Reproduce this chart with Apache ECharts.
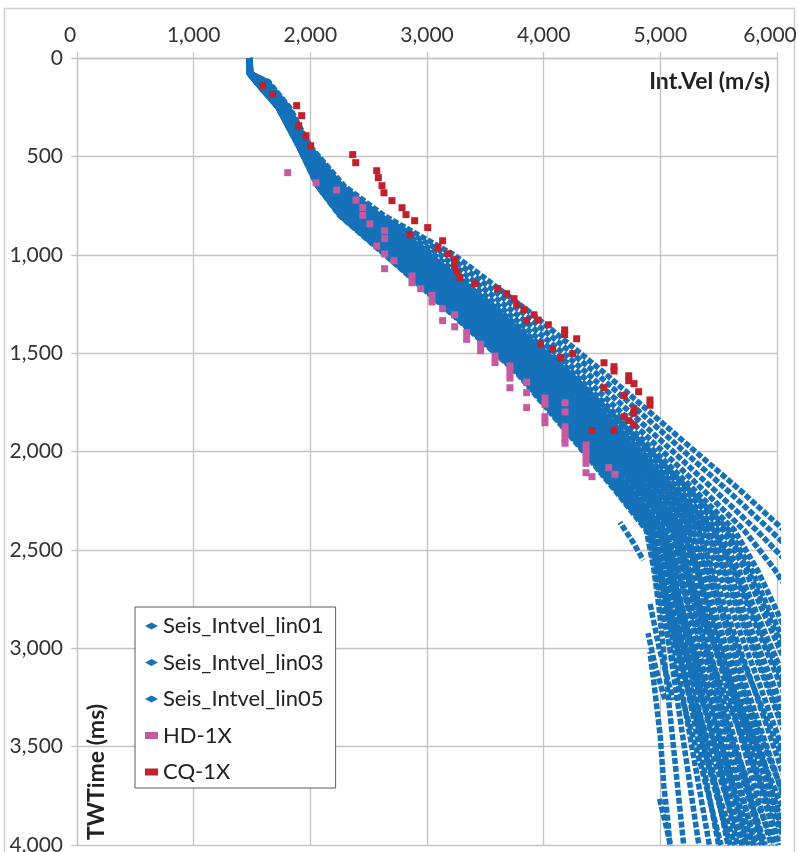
<!DOCTYPE html>
<html>
<head>
<meta charset="utf-8">
<script src="https://cdn.jsdelivr.net/npm/echarts@6/dist/echarts.min.js"></script>
<style>
html,body{margin:0;padding:0;background:#fff;}
#chart{width:798px;height:852px;}
</style>
</head>
<body>
<div id="chart"></div>
<script>
// ---- data ----
// knot times (ms) shared by the seismic interval-velocity curves
const knotTimes = [0, 80, 120, 250, 450, 650, 800, 1000, 1300, 1600, 2000, 2200, 2400, 2600, 2800, 3200, 3600, 4000];

// interval velocity (m/s) of each velocity function at the knot times
const lin01Curves = [
  [1482,1492,1640,1820,2000,2290,2630,3230,3900,4520,5300,5690,6060,6390,6700,null,null,null],
  [1480,1488,1608,1791,1971,2223,2520,3059,3700,4303,5022,5375,5718,5980,6200,null,null,null],
  [1479,1486,1592,1776,1956,2189,2463,2970,3596,4190,4878,5215,5541,5725,5870,6170,null,null],
  [1479,1484,1581,1766,1946,2166,2425,2911,3527,4115,4782,5108,5423,5585,5710,5980,6240,null],
  [1478,1483,1571,1757,1937,2145,2391,2858,3465,4048,4695,5010,5317,5450,5560,5800,6030,6260],
  [1478,1482,1561,1748,1928,2124,2356,2805,3403,3980,4609,4914,5210,5320,5410,5620,5820,6020],
  [1477,1481,1551,1739,1919,2104,2322,2752,3341,3913,4522,4817,5104,5200,5280,5460,5640,5810],
  [1477,1479,1541,1730,1910,2083,2288,2699,3279,3845,4436,4721,4998,5080,5150,5290,5440,5580],
  [1476,1478,1532,1722,1902,2065,2258,2652,3224,3785,4359,4635,4904,4975,5030,5130,5230,5330],
  [1476,1479,1536,1725,1905,2072,2270,2672,3245,3810,4390,4670,4950,5050,5150,5420,5700,5980],
  [1477,1481,1550,1738,1918,2102,2318,2746,3334,3905,4512,4800,5090,5210,5330,5620,5900,6180],
  [1479,1486,1594,1778,1958,2193,2470,2982,3610,4205,4897,5236,5564,5750,5900,6210,null,null],
  [1478,1482,1565,1752,1932,2133,2371,2829,3431,4010,4648,4955,5258,5390,5520,5800,6080,null],
  [1477,1480,1545,1734,1914,2092,2303,2722,3306,3875,4475,4762,5045,5150,5250,5470,5680,5900]
];
const lin03Curves = [
  [1481,1491,1629,1810,1990,2267,2592,3171,3831,4445,5204,5580,5942,6280,6600,null,null,null],
  [1480,1487,1600,1784,1964,2207,2493,3018,3652,4250,4954,5300,5635,5830,5990,6300,null,null],
  [1479,1485,1587,1772,1952,2180,2448,2947,3569,4160,4839,5172,5494,5670,5810,6100,null,null],
  [1479,1484,1577,1763,1943,2159,2413,2894,3507,4093,4753,5075,5387,5540,5660,5920,6170,null],
  [1478,1483,1567,1754,1934,2138,2379,2841,3445,4025,4666,4978,5281,5405,5510,5740,5970,6190],
  [1478,1482,1558,1745,1925,2118,2345,2788,3383,3958,4580,4882,5175,5282,5370,5570,5760,5950],
  [1477,1480,1548,1736,1916,2097,2311,2734,3320,3890,4494,4785,5069,5162,5240,5410,5570,5740],
  [1476,1479,1538,1727,1907,2076,2277,2681,3258,3823,4407,4689,4963,5040,5100,5230,5370,5500],
  [1476,1478,1530,1720,1900,2060,2250,2640,3210,3770,4340,4615,4880,4945,4990,5060,5130,5200],
  [1477,1480,1543,1732,1912,2088,2296,2711,3293,3860,4455,4740,5020,5140,5260,5530,5800,6080],
  [1476,1479,1539,1728,1908,2079,2281,2687,3265,3830,4417,4700,4980,5050,5120,5260,5480,5700],
  [1479,1485,1585,1770,1950,2176,2440,2935,3555,4145,4820,5150,5470,5640,5780,6070,6320,null],
  [1478,1482,1559,1746,1926,2120,2349,2794,3390,3965,4590,4890,5190,5310,5430,5700,5960,6230],
  [1477,1479,1540,1729,1909,2081,2285,2693,3272,3838,4426,4710,4990,5090,5190,5400,5610,5830]
];
const lin05Curves = [
  [1481,1489,1618,1800,1980,2244,2554,3112,3762,4370,5108,5470,5824,6150,6450,null,null,null],
  [1480,1486,1596,1780,1960,2198,2478,2994,3624,4220,4916,5257,5588,5780,5930,6250,null,null],
  [1479,1485,1584,1769,1949,2173,2436,2929,3548,4138,4810,5140,5458,5625,5760,6040,6300,null],
  [1478,1484,1574,1760,1940,2152,2402,2876,3486,4070,4724,5043,5352,5495,5610,5860,6100,null],
  [1478,1482,1564,1751,1931,2131,2368,2823,3424,4003,4638,4946,5246,5365,5460,5680,5890,6100],
  [1477,1481,1554,1742,1922,2111,2334,2770,3362,3935,4551,4850,5140,5245,5330,5510,5700,5880],
  [1477,1480,1544,1733,1913,2090,2299,2717,3300,3868,4465,4753,5033,5118,5190,5350,5510,5660],
  [1476,1479,1534,1724,1904,2069,2265,2664,3238,3800,4378,4656,4927,5000,5060,5180,5300,5420],
  [1476,1478,1533,1723,1903,2067,2262,2658,3231,3792,4368,4645,4915,5000,5080,5320,5560,5800],
  [1476,1478,1531,1721,1901,2063,2255,2648,3220,3780,4352,4625,4895,4955,5010,5160,5350,5520],
  [1479,1484,1578,1764,1944,2162,2417,2900,3514,4100,4763,5085,5400,5550,5680,5940,6200,null],
  [1478,1483,1572,1758,1938,2147,2394,2864,3472,4055,4705,5020,5330,5430,5520,5720,5900,6080],
  [1477,1481,1552,1740,1920,2106,2326,2758,3348,3920,4532,4826,5116,5230,5350,5600,5860,6100],
  [1476,1478,1533,1723,1903,2067,2262,2658,3231,3792,4368,4645,4912,4990,5060,5230,5420,5640]
];
// deep velocity segments [velocity, time] of traces that begin below the shallow section
const lin01Segments = [
  [[5150,2400],[5300,2800],[5480,3200],[5680,3600],[5870,4000]],
  [[5000,2600],[5100,2900],[5280,3300],[5460,3700],[5600,4000]]
];
const lin03Segments = [
  [[5050,2500],[5180,2800],[5380,3200],[5580,3600],[5760,4000]],
  [[5300,2500],[5480,2900],[5700,3300],[5920,3700],[6060,3950]]
];
const lin05Segments = [
  [[4654,2360],[4760,2455],[4854,2552]],
  [[4911,2770],[4990,3000],[5060,3150],[5109,3263]],
  [[4894,2923],[4960,3100],[5040,3263]],
  [[4911,3019],[4950,3200],[5000,3450],[5030,3700],[5060,3850],[5083,4005]],
  [[4991,3761],[5040,3880],[5089,4005]],
  [[5230,2400],[5400,2800],[5600,3200],[5800,3600],[6010,4000]],
  [[5120,2700],[5250,3000],[5420,3400],[5620,3800],[5720,4000]]
];

// well checkshot interval velocities [velocity (m/s), TWT (ms)]
const hd1x = [
  [1806,583],[2049,634],[2226,671],[2391,722],[2449,760],[2449,800],[2511,843],[2637,878],
  [2637,918],[2569,955],[2637,996],[2717,1030],[2637,1071],[2871,1108],[2871,1142],[2946,1172],
  [3043,1206],[3043,1240],[3134,1274],[3134,1335],[3237,1305],[3237,1366],[3340,1395],[3340,1430],
  [3460,1455],[3460,1488],[3583,1515],[3583,1548],[3711,1565],[3711,1596],[3711,1627],[3711,1676],
  [3854,1647],[3854,1701],[3854,1777],[4011,1728],[4011,1760],[4011,1823],[4011,1854],[4183,1752],
  [4183,1799],[4183,1874],[4183,1904],[4183,1934],[4183,1958],[4363,1967],[4363,1998],[4363,2029],
  [4363,2060],[4363,2108],[4414,2128],[4557,2082],[4611,2116]
];
const cq1x = [
  [1591,141],[1677,185],[1883,242],[1926,293],[1900,344],[1963,395],[2003,446],[2363,491],
  [2389,532],[2569,573],[2583,608],[2614,649],[2631,685],[2700,725],[2786,761],[2820,796],
  [2894,827],[3006,862],[2854,898],[3134,929],[3094,964],[3180,995],[3237,1025],[3237,1056],
  [3254,1086],[3283,1117],[3411,1147],[3606,1172],[3683,1198],[3746,1223],[3769,1254],[3831,1279],
  [3917,1305],[3854,1335],[3951,1332],[4040,1356],[4180,1382],[4180,1406],[4283,1427],[3974,1454],
  [4077,1478],[4249,1503],[4146,1523],[4517,1549],[4603,1569],[4603,1591],[4729,1615],[4729,1640],
  [4774,1655],[4814,1696],[4517,1676],[4689,1716],[4911,1738],[4911,1765],[4774,1782],[4774,1806],
  [4689,1823],[4729,1843],[4774,1864],[4603,1891],[4414,1894]
];

const xTicks = [0, 1000, 2000, 3000, 4000, 5000, 6000];
const yTicks = [0, 500, 1000, 1500, 2000, 2500, 3000, 3500, 4000];

// ---- styling ----
const BLUE = '#1571B8';
const PINK = '#C55AA0';
const RED = '#C0212C';
const GRID = '#C4C4C4';
const FONT = 'Lato';

function curvePairs(vals) {
  const out = [];
  vals.forEach((v, i) => { if (v !== null) out.push([v, knotTimes[i]]); });
  return out;
}
let styleIdx = 0;
function lineSeries(name, data) {
  const off = (styleIdx * 2.7) % 8;
  styleIdx++;
  return {
    type: 'line', name: name, data: data, showSymbol: false, symbol: 'diamond',
    silent: true, clip: true, z: 2,
    itemStyle: { color: BLUE },
    lineStyle: { color: BLUE, width: 5.5, type: [6, 2], dashOffset: off, cap: 'butt', join: 'round' }
  };
}
const series = [];
lin01Curves.forEach(c => series.push(lineSeries('Seis_Intvel_lin01', curvePairs(c))));
lin01Segments.forEach(s => series.push(lineSeries('Seis_Intvel_lin01', s)));
lin03Curves.forEach(c => series.push(lineSeries('Seis_Intvel_lin03', curvePairs(c))));
lin03Segments.forEach(s => series.push(lineSeries('Seis_Intvel_lin03', s)));
lin05Curves.forEach(c => series.push(lineSeries('Seis_Intvel_lin05', curvePairs(c))));
lin05Segments.forEach(s => series.push(lineSeries('Seis_Intvel_lin05', s)));
series.push({ type: 'scatter', name: 'HD-1X', data: hd1x, symbol: 'rect', symbolSize: 7,
  itemStyle: { color: PINK, opacity: 1 }, z: 3, silent: true });
series.push({ type: 'scatter', name: 'CQ-1X', data: cq1x, symbol: 'rect', symbolSize: 7,
  itemStyle: { color: RED, opacity: 1 }, z: 4, silent: true });

const fmtNum = v => v.toString().replace(/\B(?=(\d{3})+(?!\d))/g, ',');
const xFmt = v => (v === xTicks[0] || v === xTicks[xTicks.length - 1]) ? '{edge|' + fmtNum(v) + '}' : fmtNum(v);

const chart = echarts.init(document.getElementById('chart'), null, { renderer: 'canvas' });
chart.setOption({
  animation: false,
  backgroundColor: '#fff',
  grid: { left: 77, top: 58, width: 700, height: 787, containLabel: false, outerBoundsMode: 'none' },
  xAxis: {
    type: 'value', position: 'top', min: xTicks[0], max: xTicks[xTicks.length - 1],
    interval: xTicks[1] - xTicks[0],
    axisLine: { show: true, onZero: false, lineStyle: { color: GRID, width: 1.3 } },
    axisTick: { show: true, length: 6, lineStyle: { color: GRID, width: 1.3 } },
    splitLine: { show: true, lineStyle: { color: GRID, width: 1.3 } },
    axisLabel: { margin: 12, fontFamily: FONT, fontSize: 21, color: '#333', formatter: xFmt,
      rich: { edge: { fontFamily: FONT, fontSize: 21, color: '#333', padding: [0, 14, 0, 0] } } }
  },
  yAxis: {
    type: 'value', inverse: true, min: yTicks[0], max: yTicks[yTicks.length - 1],
    interval: yTicks[1] - yTicks[0],
    axisLine: { show: true, onZero: false, lineStyle: { color: GRID, width: 1.3 } },
    axisTick: { show: true, length: 6, lineStyle: { color: GRID, width: 1.3 } },
    splitLine: { show: true, lineStyle: { color: GRID, width: 1.3 } },
    axisLabel: { margin: 14, fontFamily: FONT, fontSize: 21, color: '#333', formatter: fmtNum }
  },
  legend: {
    orient: 'vertical', left: 135, top: 607,
    padding: [8, 12, 5, 10], itemGap: 14.5, itemWidth: 13, itemHeight: 7,
    backgroundColor: '#fff', borderColor: '#5a5a5a', borderWidth: 1, borderRadius: 0,
    selectedMode: false,
    textStyle: { fontFamily: FONT, fontSize: 22, color: '#222', lineHeight: 20 },
    data: [
      { name: 'Seis_Intvel_lin01', icon: 'diamond' },
      { name: 'Seis_Intvel_lin03', icon: 'diamond' },
      { name: 'Seis_Intvel_lin05', icon: 'diamond' },
      { name: 'HD-1X', icon: 'rect' },
      { name: 'CQ-1X', icon: 'rect' }
    ]
  },
  graphic: [
    { type: 'rect', silent: true, z: -1, shape: { x: 4.5, y: 8.5, width: 790, height: 860 },
      style: { fill: null, stroke: '#D0D0D0', lineWidth: 1.5 } },
    { type: 'text', x: 770, y: 82, silent: true,
      style: { text: 'Int.Vel (m/s)', align: 'right', verticalAlign: 'middle',
        font: 'bold 23px Lato', fill: '#222' } },
    { type: 'text', x: 97, y: 840, rotation: Math.PI / 2, silent: true,
      style: { text: 'TWTime (ms)', align: 'left', verticalAlign: 'middle',
        font: 'bold 23px Lato', fill: '#222' } }
  ],
  series: series
});
</script>
</body>
</html>
